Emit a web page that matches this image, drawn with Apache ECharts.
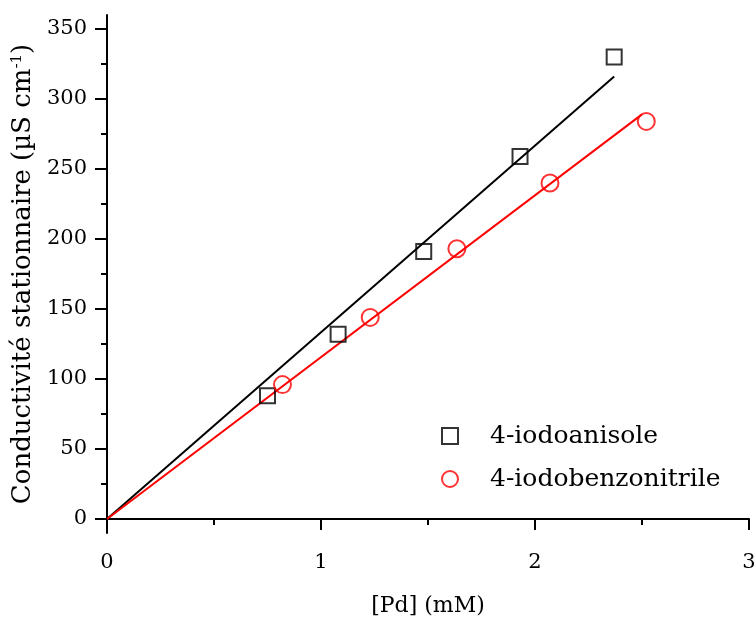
<!DOCTYPE html>
<html><head><meta charset="utf-8">
<script src="https://cdn.jsdelivr.net/npm/echarts@6/dist/echarts.min.js"></script>
<style>html,body{margin:0;padding:0;background:#fff}#c{width:756px;height:619px}</style>
</head><body><div id="c"></div>
<script>
const anisoleX = [0.75, 1.08, 1.48, 1.93, 2.37];
const anisoleY = [88, 132, 191, 259, 330];
const nitrileX = [0.82, 1.23, 1.635, 2.07, 2.52];
const nitrileY = [96, 144, 193, 240, 284];
const anisoleFitX = [0, 2.37];
const anisoleFitY = [0, 316];
const nitrileFitX = [0, 2.5];
const nitrileFitY = [0, 289];
const yMajor = [0, 50, 100, 150, 200, 250, 300, 350];
const yMinor = [25, 75, 125, 175, 225, 275, 325];
const xMajor = [0, 1, 2, 3];
const xMinor = [0.5, 1.5, 2.5];
const names = ['4-iodoanisole', '4-iodobenzonitrile'];
const FONT = 'DejaVu Serif';

const zip = (a, b) => a.map((v, i) => [v, b[i]]);
const chart = echarts.init(document.getElementById('c'));
const axisLineStyle = {color: '#000', width: 2};
chart.setOption({
  animation: false,
  textStyle: {fontFamily: FONT},
  grid: {left: 107, right: 7, top: 15, bottom: 86, outerBoundsMode: 'none', containLabel: false},
  legend: {
    orient: 'vertical', left: 436, top: 418, itemGap: 17, itemWidth: 16, itemHeight: 16,
    textStyle: {fontFamily: FONT, fontSize: 25, lineHeight: 26, color: '#000', padding: [0, 0, 0, 27]},
    data: names
  },
  xAxis: [{
    type: 'value', min: 0, max: 3, position: 'bottom',
    axisLine: {show: true, lineStyle: axisLineStyle},
    axisTick: {show: true, length: 11, lineStyle: {width: 2, color: '#000'}, customValues: xMajor},
    axisLabel: {color: '#000', fontSize: 21, margin: 19, fontFamily: FONT, customValues: xMajor},
    splitLine: {show: false},
    name: '[Pd] (mM)', nameLocation: 'middle', nameGap: 62,
    nameTextStyle: {fontSize: 22, color: '#000', fontFamily: FONT}
  }, {
    type: 'value', min: 0, max: 3, position: 'bottom',
    axisLine: {show: false},
    axisTick: {show: true, length: 6, lineStyle: {width: 2, color: '#000'}, customValues: xMinor},
    axisLabel: {show: false}, splitLine: {show: false}
  }],
  yAxis: [{
    type: 'value', min: -10, max: 360, position: 'left',
    axisLine: {show: true, lineStyle: axisLineStyle},
    axisTick: {show: true, length: 12, lineStyle: {width: 2, color: '#000'}, customValues: yMajor},
    axisLabel: {color: '#000', fontSize: 21, margin: 20, fontFamily: FONT, customValues: yMajor},
    splitLine: {show: false},
    name: '{a|Conductivité stationnaire (µS cm}{s|-1}{a|)}', nameLocation: 'middle', nameGap: 59,
    nameTextStyle: {rich: {
      a: {fontSize: 26, color: '#000', fontFamily: FONT},
      s: {fontSize: 15, color: '#000', fontFamily: FONT, verticalAlign: 'top', padding: [0, 0, 12, 0]}
    }}
  }, {
    type: 'value', min: -10, max: 360, position: 'left',
    axisLine: {show: false},
    axisTick: {show: true, length: 6, lineStyle: {width: 2, color: '#000'}, customValues: yMinor},
    axisLabel: {show: false}, splitLine: {show: false}
  }],
  series: [
    {name: names[0] + ' fit', type: 'line', data: zip(anisoleFitX, anisoleFitY), showSymbol: false,
     lineStyle: {color: '#000', width: 2}, z: 2},
    {name: names[1] + ' fit', type: 'line', data: zip(nitrileFitX, nitrileFitY), showSymbol: false,
     lineStyle: {color: '#ff0000', width: 2}, z: 2},
    {name: names[0], type: 'scatter', data: zip(anisoleX, anisoleY), symbol: 'rect', symbolSize: 15,
     itemStyle: {color: 'rgba(255,255,255,0)', borderColor: '#000', borderWidth: 2}, z: 3},
    {name: names[1], type: 'scatter', data: zip(nitrileX, nitrileY), symbol: 'circle', symbolSize: 17,
     itemStyle: {color: 'rgba(255,255,255,0)', borderColor: '#ff0000', borderWidth: 2}, z: 3}
  ]
});
</script></body></html>
